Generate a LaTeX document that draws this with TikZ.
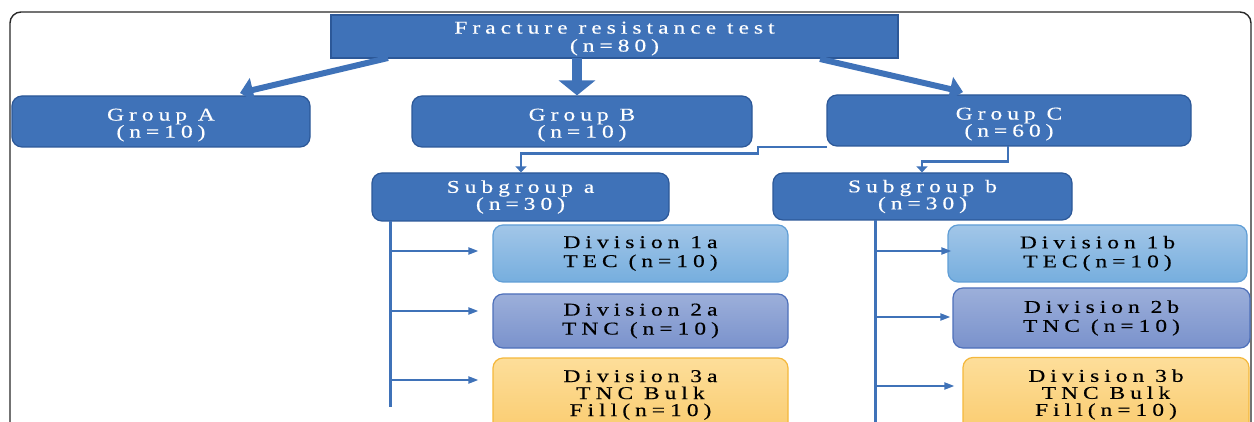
\documentclass[tikz,border=0pt]{standalone}
\usepackage{fontspec}
\setmainfont{Liberation Serif}
\newfontfamily\widefont[FakeStretch=1.3,LetterSpace=28,FakeBold=0.4]{Liberation Serif}
\usetikzlibrary{arrows.meta}
\newcommand{\dropstrut}{\rule{0pt}{19pt}}
\newcommand{\topstrut}{\rule{0pt}{16pt}}
\definecolor{gblue}{RGB}{63,114,184}
\definecolor{gborder}{RGB}{44,88,152}
\definecolor{d1top}{RGB}{162,198,232}
\definecolor{d1bot}{RGB}{118,174,222}
\definecolor{d1bd}{RGB}{96,158,214}
\definecolor{d2top}{RGB}{156,175,218}
\definecolor{d2bot}{RGB}{122,146,204}
\definecolor{d2bd}{RGB}{78,112,186}
\definecolor{d3top}{RGB}{253,222,154}
\definecolor{d3bot}{RGB}{250,204,112}
\definecolor{d3bd}{RGB}{244,184,60}
\definecolor{frame}{RGB}{40,40,40}
\tikzset{
  gbox/.style={draw=gborder,line width=1.2pt,fill=gblue,rounded corners=10pt,
    text=white,align=center,font=\widefont\fontsize{18}{17}\selectfont,inner sep=0pt},
  topbox/.style={gbox,rounded corners=0pt,font=\widefont\fontsize{18}{18}\selectfont},
  dbox/.style={line width=1.2pt,rounded corners=10pt,text=black,align=center,
    font=\widefont\fontsize{18}{19}\selectfont,inner sep=0pt},
  div1/.style={dbox,draw=d1bd,top color=d1top,bottom color=d1bot},
  div2/.style={dbox,draw=d2bd,top color=d2top,bottom color=d2bot},
  div3/.style={dbox,draw=d3bd,top color=d3top,bottom color=d3bot,font=\widefont\fontsize{18}{17}\selectfont},
  bigarrow/.style={draw=gblue,line width=6pt,-{Triangle[length=13pt,width=24pt]}},
  elbow/.style={draw=gblue,line width=2.6pt,-{Triangle[length=6pt,width=11pt]}},
  trunk/.style={draw=gblue,line width=3pt},
  branch/.style={draw=gblue,line width=2pt,-{Triangle[length=10pt,width=7pt]}},
}
\begin{document}
\begin{tikzpicture}[x=1pt,y=-1pt]
\useasboundingbox (0,0) rectangle (1254,422);
\begin{scope}
\clip (0,0) rectangle (1254,422);
\draw[frame,line width=1.4pt,rounded corners=11pt] (10,12) rectangle (1251,440);
\end{scope}

\node[topbox,minimum width=567pt,minimum height=43pt] (top) at (614.5,36.5) {\topstrut Fracture resistance test\\(n=80)};
\node[gbox,minimum width=298pt,minimum height=51pt] (ga) at (161,121.5) {\dropstrut Group A\\(n=10)};
\node[gbox,minimum width=340pt,minimum height=51pt] (gb) at (582,121.5) {\dropstrut Group B\\(n=10)};
\node[gbox,minimum width=364pt,minimum height=51pt] (gc) at (1009,120.5) {\dropstrut Group C\\(n=60)};
\node[gbox,minimum width=297pt,minimum height=48pt] (sa) at (520.5,197) {Subgroup a\\(n=30)};
\node[gbox,minimum width=299pt,minimum height=47pt] (sb) at (922.5,196.5) {Subgroup b\\(n=30)};

\node[div1,minimum width=295pt,minimum height=57pt] (d1a) at (640.5,253.5) {Division 1a\\TEC (n=10)};
\node[div2,minimum width=295pt,minimum height=54pt] (d2a) at (640.5,321) {Division 2a\\TNC (n=10)};
\node[div3,minimum width=295pt,minimum height=74pt] (d3a) at (640.5,395) {Division 3a\\TNC Bulk\\Fill(n=10)};
\node[div1,minimum width=299pt,minimum height=57pt] (d1b) at (1097.5,253.5) {Division 1b\\TEC(n=10)};
\node[div2,minimum width=297pt,minimum height=60pt] (d2b) at (1101.5,318) {Division 2b\\TNC (n=10)};
\node[div3,minimum width=286pt,minimum height=74pt] (d3b) at (1106,394.5) {Division 3b\\TNC Bulk\\Fill(n=10)};

% big arrows from the top box
\coordinate (tA) at (388,58);
\coordinate (hA) at (240,93);
\draw[bigarrow] (tA) -- (hA);
\coordinate (tB) at (577,58);
\draw[draw=gblue,line width=10pt,-{Triangle[length=15pt,width=36pt]}] (tB) -- (tB |- gb.north);
\coordinate (tC) at (820,59);
\coordinate (hC) at (963,92);
\draw[bigarrow] (tC) -- (hC);

% Group C to subgroups
\coordinate (c1) at (827,147);
\draw[elbow] (c1) -- (758,147) -- (758,153.5) -- (521,153.5) -- (521,0 |- sa.north);
\coordinate (c2) at (1008,146);
\draw[elbow] (c2) -- (1008,161.5) -- (922,161.5) -- (922,0 |- sb.north);

% subgroup a trunk
\coordinate (va) at (390,221);
\coordinate (vae) at (390,407);
\draw[trunk] (va) -- (vae);
\draw[branch,shorten >=14pt] (va |- 0,251) -- (d1a.west |- 0,251);
\draw[branch,shorten >=14pt] (va |- 0,311) -- (d2a.west |- 0,311);
\draw[branch,shorten >=14pt] (va |- 0,380) -- (d3a.west |- 0,380);

% subgroup b trunk
\coordinate (vb) at (875,220);
\coordinate (vbe) at (875,425);
\draw[trunk] (vb) -- (vbe);
\draw[branch,shorten >=-4pt] (vb |- 0,251) -- (d1b.west |- 0,251);
\draw[branch,shorten >=2pt] (vb |- 0,317) -- (d2b.west |- 0,317);
\draw[branch,shorten >=8pt] (vb |- 0,386) -- (d3b.west |- 0,386);
\end{tikzpicture}
\end{document}
